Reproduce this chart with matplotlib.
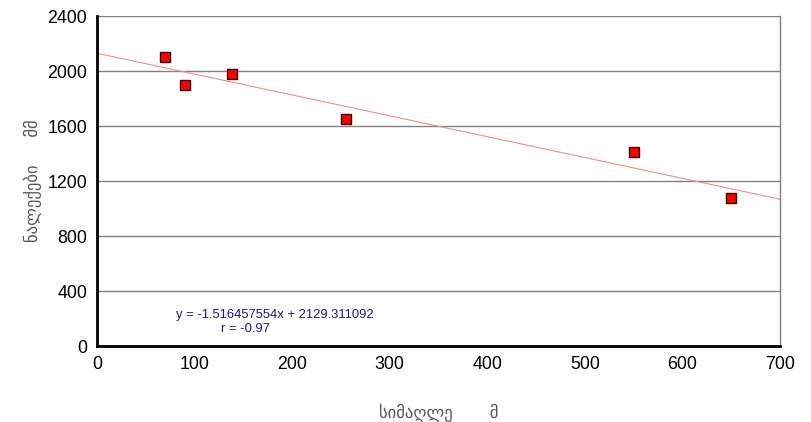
import numpy as np
import matplotlib
matplotlib.use('Agg')
import matplotlib.pyplot as plt

# სიმაღლე (მ) და ნალექები (მმ)
simaghle = [70, 90, 138, 255, 550, 650]
naleqebi = [2100, 1895, 1975, 1650, 1410, 1075]

# წრფივი ტრენდი
fit_slope = -1.516457554
fit_intercept = 2129.311092
fit_r = -0.97

x_ticks = [0, 100, 200, 300, 400, 500, 600, 700]
y_ticks = [0, 400, 800, 1200, 1600, 2000, 2400]

plt.rcParams['font.family'] = ['Liberation Sans', 'DejaVu Sans']

fig = plt.figure(figsize=(8.12, 4.22), dpi=100)
ax = fig.add_axes([0.1195, 0.180, 0.8411, 0.782])

xs = np.array([0, 700])
ax.plot(xs, fit_slope * xs + fit_intercept, color='#f28c8c', lw=0.8, zorder=2)
ax.plot(simaghle, naleqebi, linestyle='none', marker='s', markersize=7.5,
        markerfacecolor='#ff0000', markeredgecolor='#3a0000', markeredgewidth=1.0, zorder=3)

ax.set_xlim(0, 700)
ax.set_ylim(0, 2400)
ax.set_xticks(x_ticks)
ax.set_yticks(y_ticks)
ax.yaxis.grid(True, color='#808080', lw=1.0)
ax.set_axisbelow(True)

for s in ['left', 'bottom']:
    ax.spines[s].set_color('black')
    ax.spines[s].set_linewidth(2)
ax.spines['right'].set_color('#808080')
ax.spines['right'].set_linewidth(1)
ax.spines['top'].set_visible(False)
ax.tick_params(length=0, labelsize=12.8, pad=7)

ax.set_xlabel('სიმაღლე        მ', fontsize=12, color='#555555', labelpad=22)
ax.set_ylabel('ნალექები      მმ', fontsize=12, color='#555555', labelpad=4)

ax.text(0.115, 0.095, f'y = {fit_slope}x + {fit_intercept}', transform=ax.transAxes,
        fontsize=9.4, color='#1a1a80', va='center')
ax.text(0.182, 0.053, f'r = {fit_r}', transform=ax.transAxes,
        fontsize=9.4, color='#1a1a80', va='center')

plt.savefig('out.png', dpi=100)
